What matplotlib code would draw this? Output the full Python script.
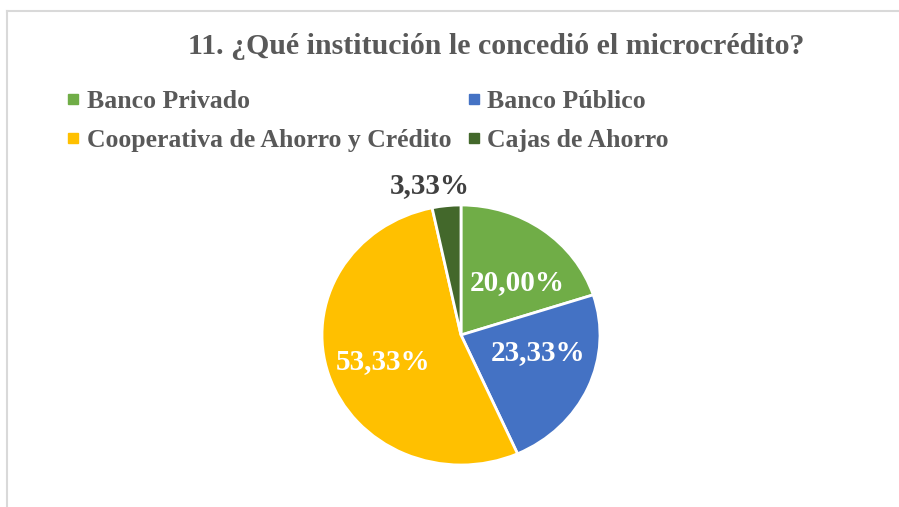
import numpy as np
import matplotlib
matplotlib.use("Agg")
import matplotlib.pyplot as plt
from matplotlib.lines import Line2D

# Data
categories = ["Banco Privado", "Banco Público", "Cooperativa de Ahorro y Crédito", "Cajas de Ahorro"]
percentages = [20.00, 23.33, 53.33, 3.33]
colors = ["#70AD47", "#4472C4", "#FFC000", "#43682B"]
label_colors = ["white", "white", "white", "#404040"]
label_dist = [0.57, 0.57, 0.6, 1.17]
label_shift = [-9, 10, 2, 5]
title = "11. ¿Qué institución le concedió el microcrédito?"

plt.rcParams['font.family'] = ['Liberation Serif', 'DejaVu Serif']

W, H = 899, 507
fig = plt.figure(figsize=(W / 100, H / 100), dpi=100)
fig.patch.set_facecolor("white")

# chart border (light gray)
fig.add_artist(Line2D([7 / W, 1.0], [1 - 11 / H, 1 - 11 / H], transform=fig.transFigure,
                      color="#D9D9D9", lw=1.5))
fig.add_artist(Line2D([7 / W, 7 / W], [0, 1 - 11 / H], transform=fig.transFigure,
                      color="#D9D9D9", lw=1.5))

cx, cy, rx, ry = 461, 335, 139, 130
ax = fig.add_axes([(cx - rx) / W, (H - cy - ry) / H, 2 * rx / W, 2 * ry / H])
wedges, _ = ax.pie(percentages, colors=colors, startangle=90, counterclock=False,
                   wedgeprops=dict(edgecolor="white", linewidth=2))
ax.set_aspect("auto")
ax.set_xlim(-1, 1)
ax.set_ylim(-1, 1)

for w, p, c, d, s in zip(wedges, percentages, label_colors, label_dist, label_shift):
    ang = np.deg2rad((w.theta1 + w.theta2) / 2 + s)
    ax.text(d * np.cos(ang), d * np.sin(ang), f"{p:.2f}%".replace(".", ","),
            ha="center", va="center", color=c, fontsize=21, fontweight="bold")

fig.text(496 / W, 1 - 47 / H, title, ha="center", va="center", fontsize=21.5,
         fontweight="bold", color="#595959")

order = [0, 2, 1, 3]
handles = [Line2D([], [], marker="s", linestyle="none", markersize=7,
                  markerfacecolor=colors[i], markeredgecolor=colors[i]) for i in order]
labels = [categories[i] for i in order]
leg = fig.legend(handles, labels, ncol=2, loc="center left",
                 bbox_to_anchor=(56 / W, 1 - 121 / H), frameon=False,
                 prop=dict(family="Liberation Serif", weight="bold", size=18.5),
                 handlelength=0.35, handletextpad=0.35, columnspacing=0.7,
                 labelspacing=0.62, borderpad=0)
for t in leg.get_texts():
    t.set_color("#595959")

fig.savefig("out.png", dpi=100, facecolor="white")
